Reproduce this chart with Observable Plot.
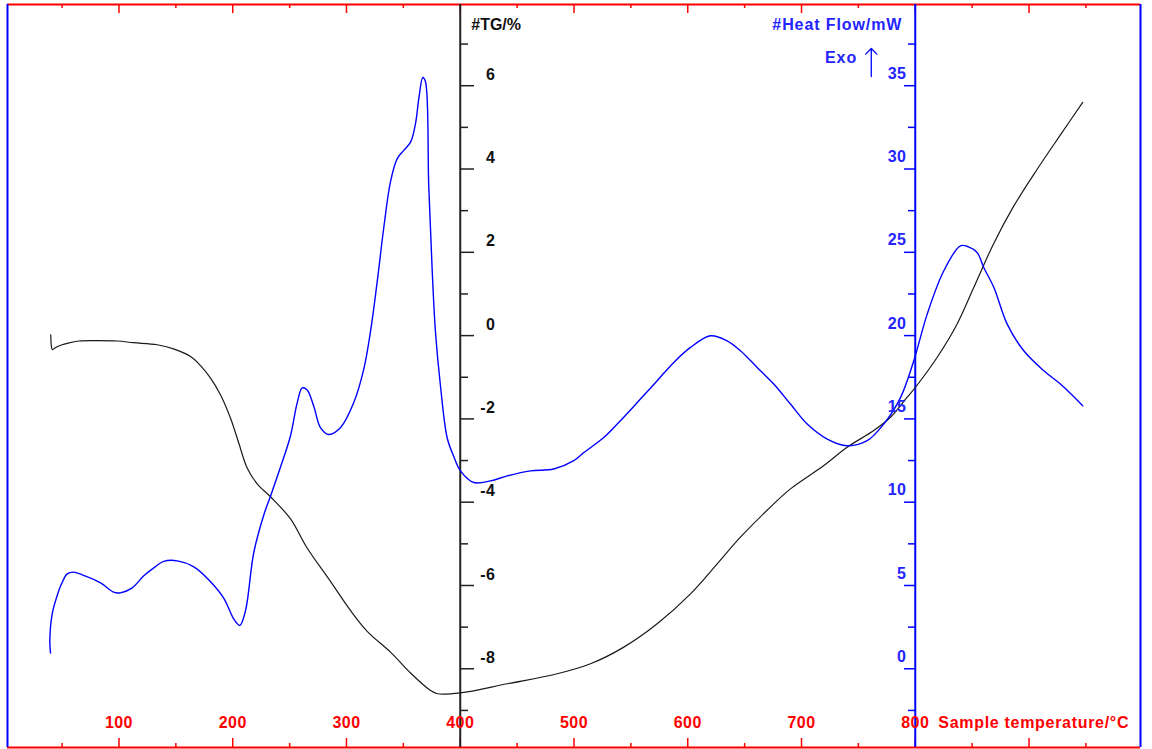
<!DOCTYPE html>
<html>
<head>
<meta charset="utf-8">
<script src="https://cdn.jsdelivr.net/npm/d3@7"></script>
<script src="https://cdn.jsdelivr.net/npm/@observablehq/plot@0.6"></script>
<style>
  html, body { margin: 0; padding: 0; background: #fff; }
  svg { display: block; }
</style>
</head>
<body>
<div id="chart"></div>
<script>
// ---- TG curve (black): sample temperature °C, mass change %
const tgTemp = [40.0, 40.6, 41.5, 44.0, 50.0, 54.5, 64.7, 80, 98.4, 112.8, 133.6, 147.9, 162.9, 171.7, 180.5, 189.2, 198, 205.3, 212.7, 221.5, 233.2, 250.8, 265.4, 285.9, 303.5, 318.2, 338.7, 356.3, 373.8, 380, 400, 441.3, 485.2, 514.5, 543.8, 573.1, 602.4, 625.9, 646.3, 675.6, 690.3, 719.6, 740.1, 763.5, 778.2, 792.9, 800.2, 819.3, 836.8, 851.5, 869.1, 886.8, 907.3, 927.6, 947.2];
const tgPct  = [0.02, -0.25, -0.34, -0.29, -0.22, -0.185, -0.13, -0.12, -0.13, -0.17, -0.22, -0.32, -0.50, -0.72, -1.02, -1.42, -1.98, -2.58, -3.18, -3.56, -3.87, -4.40, -5.10, -5.90, -6.60, -7.10, -7.60, -8.10, -8.52, -8.60, -8.58, -8.36, -8.12, -7.88, -7.48, -6.92, -6.20, -5.48, -4.84, -4.04, -3.68, -3.12, -2.68, -2.28, -1.96, -1.48, -1.24, -0.52, 0.28, 1.16, 2.22, 3.12, 4.00, 4.82, 5.60];

// ---- Heat flow curve (blue): sample temperature °C, heat flow mW
const hfTemp = [39.8, 39.2, 41.3, 45.7, 49.5, 54.5, 60, 67.7, 83.8, 95.2, 101.3, 111.6, 121.8, 130.6, 139.4, 151.2, 165.8, 180.5, 192.2, 201, 206.2, 211.2, 218.5, 227.3, 233.2, 242, 250.8, 256.7, 261.1, 265.4, 271.3, 277.1, 284.5, 294.8, 306.4, 315.2, 321.1, 327, 332.8, 338.7, 344.6, 350.4, 356.3, 360.7, 363.6, 367.1, 369.4, 372.3, 375.3, 378.2, 382.6, 388.5, 394.3, 400.2, 411.9, 426.6, 441.3, 461.7, 482.2, 499.8, 508.6, 526.2, 540.8, 558.4, 573.1, 587.7, 602.4, 620, 634.6, 646.3, 661, 675.6, 690.3, 705, 722.6, 740.1, 757.7, 772.3, 787, 798.7, 810.5, 825.1, 839.7, 846.8, 854.4, 860.2, 869.1, 880.8, 895.4, 913, 927.6, 947.2];
const hfMw   = [0.95, 1.7, 3.3, 4.4, 5.1, 5.7, 5.8, 5.64, 5.16, 4.6, 4.56, 4.86, 5.58, 6.06, 6.45, 6.48, 6.12, 5.23, 4.23, 2.98, 2.6, 3.48, 6.98, 9.23, 10.36, 12.11, 13.99, 15.98, 16.86, 16.74, 15.74, 14.48, 14.06, 14.48, 15.98, 17.99, 20.24, 23.24, 26.49, 29.24, 30.62, 31.12, 31.61, 32.74, 34.24, 35.49, 35.25, 28.99, 23.99, 20.24, 16.99, 13.87, 12.74, 11.88, 11.18, 11.28, 11.58, 11.88, 11.99, 12.49, 12.98, 13.88, 14.89, 16.19, 17.29, 18.39, 19.29, 19.99, 19.69, 19.09, 18.09, 17.09, 15.89, 14.69, 13.79, 13.39, 13.69, 14.69, 16.28, 18.49, 21.29, 23.89, 25.39, 25.33, 24.99, 24.09, 22.89, 20.69, 19.09, 17.89, 17.09, 15.79];

// ---- axes / ticks
const xDomain = [2, 998];
const tgDomain = [-9.89, 7.95];
const xTickLabels = [100, 200, 300, 400, 500, 600, 700, 800];
const xMajorTicks = [100, 200, 300, 400, 500, 600, 700, 800, 900];
const xMinorTicks = [50, 150, 250, 350, 450, 550, 650, 750, 850, 950];
const tgMajorTicks = [-8, -6, -4, -2, 0, 2, 4, 6];
const tgMinorTicks = [-9, -7, -5, -3, -1, 1, 3, 5, 7];
const hfMajorTicks = [0, 5, 10, 15, 20, 25, 30, 35];
const hfMinorTicks = [-2.5, 2.5, 7.5, 12.5, 17.5, 22.5, 27.5, 32.5, 37.5];
const tgAxisAt = 400, hfAxisAt = 800;
const xTitle = "Sample temperature/°C";
const tgTitle = "#TG/%";
const hfTitle = "#Heat Flow/mW";
const exoLabel = "Exo";

// heat flow is drawn against the TG scale (secondary axis: 0 mW ≙ -8 %, 5 mW per 2 %)
const hfToTg = h => h / 2.5 - 8;

const tgRows = tgTemp.map((t, i) => ({t, v: tgPct[i]}));
const hfRows = hfTemp.map((t, i) => ({t, v: hfToTg(hfMw[i])}));

const RED = "#ff0000", BLUE = "#0000ff", BLUET = "#2424ff", BLACK = "#111";
const font = {fontSize: 16, fontWeight: "bold", lineAnchor: "middle"};
const noText = () => "";

const chart = Plot.plot({
  width: 1152,
  height: 749,
  marginLeft: 7,
  marginRight: 12,
  marginTop: 4,
  marginBottom: 2,
  x: {domain: xDomain},
  y: {domain: tgDomain},
  style: {background: "#fff", fontFamily: "'Liberation Sans', Arial, sans-serif", overflow: "visible"},
  marks: [
    // frame
    Plot.ruleY([tgDomain[1]], {stroke: RED, strokeWidth: 2}),
    Plot.ruleY([tgDomain[0]], {stroke: RED, strokeWidth: 2}),
    Plot.ruleX([xDomain[0]], {stroke: BLUE, strokeWidth: 2}),
    Plot.ruleX([xDomain[1]], {stroke: BLUE, strokeWidth: 2}),
    // x ticks on bottom (pointing up) and top (pointing down)
    Plot.axisX(xMajorTicks, {anchor: "top", dy: 743, tickSize: 10, stroke: RED, strokeWidth: 1.5, tickFormat: noText, label: null}),
    Plot.axisX(xMinorTicks, {anchor: "top", dy: 743, tickSize: 5, stroke: RED, strokeWidth: 1.5, tickFormat: noText, label: null}),
    Plot.axisX(xMajorTicks, {anchor: "bottom", dy: -743, tickSize: 9, stroke: RED, strokeWidth: 1.5, tickFormat: noText, label: null}),
    Plot.axisX(xMinorTicks, {anchor: "bottom", dy: -743, tickSize: 4, stroke: RED, strokeWidth: 1.5, tickFormat: noText, label: null}),
    // TG axis (black) at 400 °C
    Plot.ruleX([tgAxisAt], {stroke: "#222", strokeWidth: 2}),
    Plot.axisY(tgMajorTicks, {anchor: "right", dx: -680, tickSize: 13, stroke: "#222", strokeWidth: 1.5, tickFormat: noText, label: null}),
    Plot.axisY(tgMinorTicks, {anchor: "right", dx: -680, tickSize: 7, stroke: "#222", strokeWidth: 1.5, tickFormat: noText, label: null}),
    // Heat flow axis (blue) at 800 °C
    Plot.ruleX([hfAxisAt], {stroke: BLUE, strokeWidth: 2}),
    Plot.axisY(hfMajorTicks.map(hfToTg), {anchor: "left", dx: 908, tickSize: 11, stroke: BLUE, strokeWidth: 1.5, tickFormat: noText, label: null}),
    Plot.axisY(hfMinorTicks.map(hfToTg), {anchor: "left", dx: 908, tickSize: 7, stroke: BLUE, strokeWidth: 1.5, tickFormat: noText, label: null}),
    // curves
    Plot.line(tgRows, {x: "t", y: "v", stroke: "#1a1a1a", strokeWidth: 1.2, curve: "catmull-rom"}),
    Plot.line(hfRows, {x: "t", y: "v", stroke: BLUE, strokeWidth: 1.4, curve: "catmull-rom"}),
    // tick labels
    Plot.text(tgMajorTicks, {x: tgAxisAt, y: d => d, text: d => String(d), textAnchor: "end", dx: 35, dy: -11, fill: BLACK, ...font}),
    Plot.text(hfMajorTicks, {x: hfAxisAt, y: d => hfToTg(d), text: d => String(d), textAnchor: "end", dx: -9, dy: -12, fill: BLUET, ...font}),
    Plot.text(xTickLabels, {x: d => d, frameAnchor: "bottom", dy: -25, text: d => String(d), fill: RED, ...font}),
    // titles
    Plot.text([xTitle], {x: hfAxisAt, frameAnchor: "bottom", dy: -25, dx: 23, textAnchor: "start", fill: RED, ...font}),
    Plot.text([tgTitle], {x: tgAxisAt, frameAnchor: "top", dy: 20, dx: 11, textAnchor: "start", fill: BLACK, ...font}),
    Plot.text([hfTitle], {x: hfAxisAt, frameAnchor: "top", dy: 20, dx: -13, textAnchor: "end", fill: BLUET, ...font}),
    Plot.text([exoLabel], {x: hfAxisAt, frameAnchor: "top", dy: 53, dx: -58, textAnchor: "end", fill: BLUET, ...font}),
    Plot.vector([exoLabel], {x: hfAxisAt, frameAnchor: "top", dx: -44, dy: 72, length: 28, anchor: "start", rotate: 0, stroke: BLUE, strokeWidth: 1.3, shape: "arrow"})
  ]
});

// letter spacing of the original rendering (wider tracking on the word labels)
const spacing = new Map([[xTitle, "0.7px"], [hfTitle, "0.9px"], [exoLabel, "1px"]]);
d3.select(chart).selectAll("text").each(function () {
  const s = spacing.get(this.textContent);
  if (s) this.setAttribute("letter-spacing", s);
  else if (/^-?\d+$/.test(this.textContent)) this.setAttribute("letter-spacing", "0.4px");
});

document.getElementById("chart").appendChild(chart);
</script>
</body>
</html>
